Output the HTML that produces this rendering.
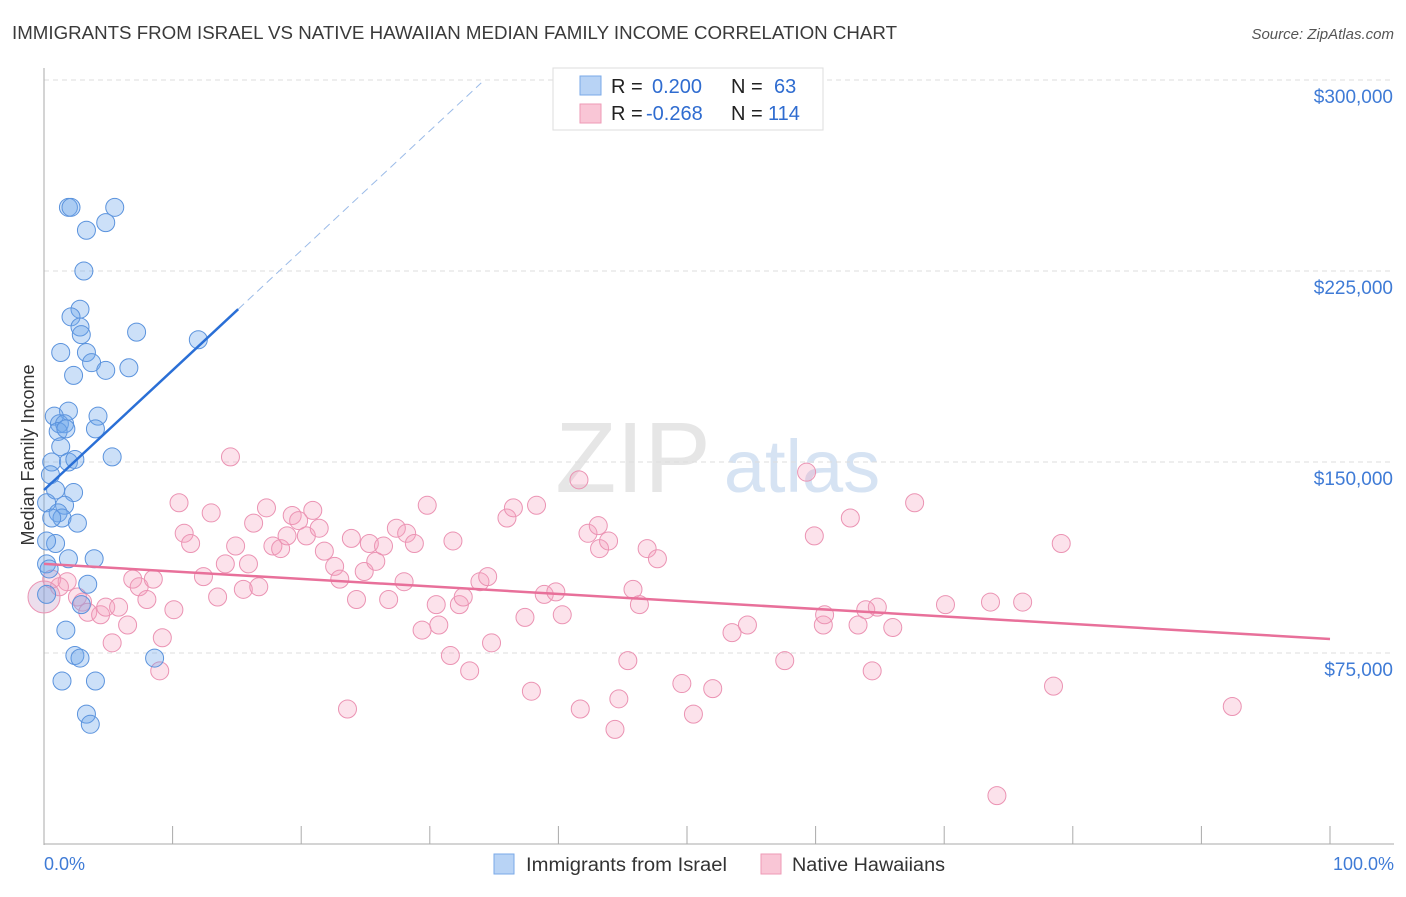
<!DOCTYPE html>
<html><head><meta charset="utf-8"><style>
body{margin:0;background:#fff;font-family:"Liberation Sans",sans-serif;}
svg text{font-family:"Liberation Sans",sans-serif;}
</style></head><body>
<svg id="c" width="1406" height="892" xmlns="http://www.w3.org/2000/svg">
<text x="12" y="39" font-size="18" fill="#3a3a3a" textLength="885" lengthAdjust="spacingAndGlyphs">IMMIGRANTS FROM ISRAEL VS NATIVE HAWAIIAN MEDIAN FAMILY INCOME CORRELATION CHART</text>
<text x="1394" y="39" font-size="15" fill="#555" font-style="italic" text-anchor="end">Source: ZipAtlas.com</text>
<text x="34" y="455" font-size="18" fill="#333" text-anchor="middle" transform="rotate(-90 34 455)">Median Family Income</text>
<g><text x="633" y="492" font-size="100" font-family="Liberation Serif" fill="#e6e6e6" text-anchor="middle">ZIP</text><text x="802" y="492" font-size="74" fill="#d6e3f3" text-anchor="middle">atlas</text></g>
<g id="grid"></g><g id="axes"></g><g id="pts"></g><g id="lines"></g>
<g>
<rect x="553" y="68" width="270" height="62" fill="#fff" stroke="#ddd"/>
<rect x="580" y="76" width="21" height="19" fill="#b8d3f5" stroke="#7aa9e8"/>
<rect x="580" y="104" width="21" height="19" fill="#f9c6d6" stroke="#ee9ab6"/>
<text x="611" y="93" font-size="20" fill="#222">R = </text><text x="652" y="93" font-size="20" fill="#2f6cd0">0.200</text>
<text x="731" y="93" font-size="20" fill="#222">N = </text><text x="774" y="93" font-size="20" fill="#2f6cd0">63</text>
<text x="611" y="120" font-size="20" fill="#222">R = </text><text x="646" y="120" font-size="20" fill="#2f6cd0">-0.268</text>
<text x="731" y="120" font-size="20" fill="#222">N = </text><text x="768" y="120" font-size="20" fill="#2f6cd0">114</text>
</g>
<g>
<rect x="494" y="854" width="20" height="20" fill="#b8d3f5" stroke="#7aa9e8"/>
<text x="526" y="871" font-size="19" fill="#333" textLength="201" lengthAdjust="spacingAndGlyphs">Immigrants from Israel</text>
<rect x="761" y="854" width="20" height="20" fill="#f9c6d6" stroke="#ee9ab6"/>
<text x="792" y="871" font-size="19" fill="#333" textLength="153" lengthAdjust="spacingAndGlyphs">Native Hawaiians</text>
</g>
<text x="44" y="870" font-size="18" fill="#3f7bd6">0.0%</text>
<text x="1394" y="870" font-size="18" fill="#3f7bd6" text-anchor="end">100.0%</text>
</svg>
<script>
const yTicks=[75000,150000,225000,300000];
const yTickLabels=["$75,000","$150,000","$225,000","$300,000"];
const blueX=[1.9,2.1,5.5,4.8,3.3,3.1,2.8,2.1,2.8,2.9,7.2,12.0,1.3,3.3,3.7,2.3,4.8,6.6,1.9,0.8,4.2,1.2,1.6,1.1,1.7,4.0,1.3,5.3,0.6,1.9,2.4,0.5,0.9,2.3,0.2,1.6,1.1,1.4,0.6,2.6,0.9,0.2,1.9,3.9,0.2,0.4,3.4,2.9,1.7,2.4,2.8,8.6,1.4,4.0,3.3,3.6,0.2];
const blueY=[250,250,250,244,241,225,210,207,203,200,201,198,193,193,189,184,186,187,170,168,168,165,165,162,163,163,156,152,150,150,151,145,139,138,134,133,130,128,128,126,118,119,112,112,110,108,102,94,84,74,73,73,64,64,51,47,98];
const pinkX=[0.6,1.8,1.2,2.6,3.0,3.4,4.4,4.8,5.8,6.5,5.3,6.9,7.4,8.0,8.5,9.2,10.1,9.0,10.5,10.9,11.4,12.4,13.0,13.5,14.1,14.5,14.9,15.5,15.9,16.3,16.7,17.3,17.8,18.4,18.9,19.3,19.8,20.4,20.9,21.4,21.8,22.6,23.0,23.6,23.9,24.3,24.9,25.3,25.8,26.4,26.8,27.4,28.0,28.2,28.8,29.4,29.8,30.5,30.7,31.6,31.8,32.3,32.6,33.1,33.9,34.5,34.8,36.0,36.5,37.4,37.9,38.3,38.9,39.8,40.3,41.6,41.7,42.3,43.1,43.2,43.9,44.4,44.7,45.4,45.8,46.3,46.9,47.7,49.6,50.5,52.0,53.5,54.7,57.6,59.3,59.9,60.6,60.7,62.7,63.3,63.9,64.4,64.8,66.0,67.7,70.1,73.6,74.1,76.1,78.5,79.1,92.4];
const pinkY=[104,103,101,97,95,91,90,93,93,86,79,104,101,96,104,81,92,68,134,122,118,105,130,97,110,152,117,100,110,126,101,132,117,116,121,129,127,121,131,124,115,109,104,53,120,96,107,118,111,117,96,124,103,122,118,84,133,94,86,74,119,94,97,68,103,105,79,128,132,89,60,133,98,99,90,143,53,122,125,116,119,45,57,72,100,94,116,112,63,51,61,83,86,72,146,121,86,90,128,86,92,68,93,85,134,94,95,19,95,62,118,54];
const blueTrend=[139,210,15.1,34];
const pinkTrend=[110,80.5];
const NS="http://www.w3.org/2000/svg";
const X=v=>44+v*12.86, Y=v=>844-v/75000*191, Yk=v=>Y(v*1000);
function mk(t,a,p){const e=document.createElementNS(NS,t);for(const k in a)e.setAttribute(k,a[k]);document.getElementById(p).appendChild(e);return e;}
yTicks.forEach((t,i)=>{
 const l=mk('line',{x1:44,x2:1394,y1:Y(t),y2:Y(t),stroke:'#ddd','stroke-dasharray':'5,4'},'grid');
 
 
 const tx=mk('text',{x:1393,y:Y(t)+23,'font-size':19,fill:'#3f7bd6','text-anchor':'end'},'axes');
 tx.textContent=yTickLabels[i];
 
 
});
const ax=mk('line',{x1:44,x2:44,y1:68,y2:845,stroke:'#aaa'},'axes');


const bx=mk('line',{x1:44,x2:1394,y1:844,y2:844,stroke:'#aaa'},'axes');


for(let i=0;i<=10;i++){const t=mk('line',{x1:X(i*10),x2:X(i*10),y1:826,y2:844,stroke:'#aaa'},'axes');
 
 }
pinkX.forEach((x,i)=>{const c=mk('circle',{cx:X(x),cy:Yk(pinkY[i]),r:9,fill:'rgba(244,160,190,0.3)',stroke:'#eb93b3','stroke-width':1},'pts');
 
 });
const big=mk('circle',{cx:X(0),cy:Yk(97),r:16,fill:'rgba(200,160,200,0.35)',stroke:'#eb93b3'},'pts');


blueX.forEach((x,i)=>{const c=mk('circle',{cx:X(x),cy:Yk(blueY[i]),r:9,fill:'rgba(110,165,235,0.35)',stroke:'#5b93dd','stroke-width':1},'pts');
 
 });
const slope=(blueTrend[1]-blueTrend[0])/blueTrend[2];
const b1=mk('line',{x1:X(0),y1:Yk(blueTrend[0]),x2:X(blueTrend[2]),y2:Yk(blueTrend[1]),stroke:'#2a6fd6','stroke-width':2.5},'lines');


const b2=mk('line',{x1:X(blueTrend[2]),y1:Yk(blueTrend[1]),x2:X(blueTrend[3]),y2:Yk(blueTrend[0]+slope*blueTrend[3]),stroke:'#9bbbe8','stroke-width':1,'stroke-dasharray':'8,5'},'lines');


const p1=mk('line',{x1:X(0),y1:Yk(pinkTrend[0]),x2:X(100),y2:Yk(pinkTrend[1]),stroke:'#e8709a','stroke-width':2.5},'lines');


</script>
</body></html>
